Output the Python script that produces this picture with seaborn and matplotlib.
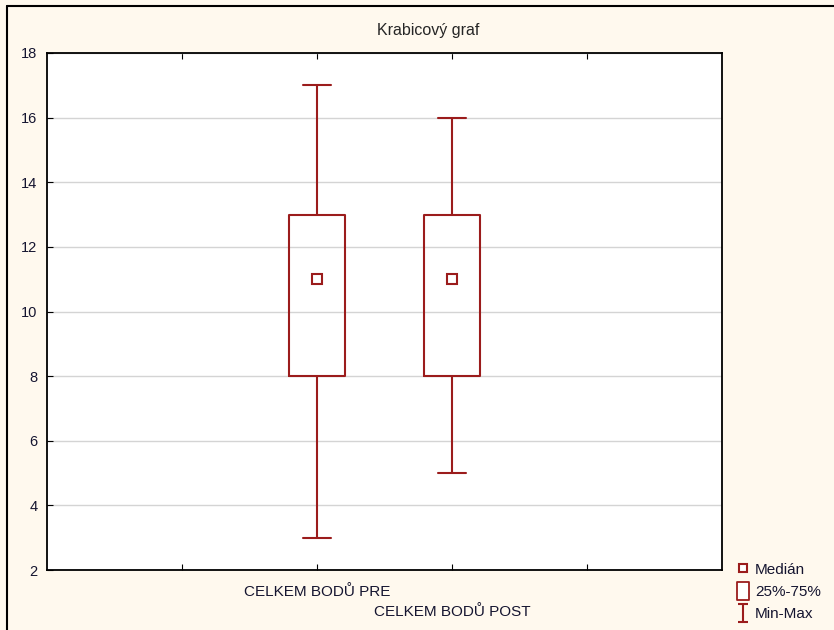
import matplotlib
matplotlib.use('Agg')
import matplotlib.pyplot as plt
import seaborn as sns
import pandas as pd
import numpy as np
from matplotlib.lines import Line2D
from matplotlib.path import Path

# Values (min, Q1, median, Q3, max)
categories = ['CELKEM BODŮ PRE', 'CELKEM BODŮ POST']
pre_values = [3, 8, 11, 13, 17]
post_values = [5, 8, 11, 13, 16]
y_ticks = [2, 4, 6, 8, 10, 12, 14, 16, 18]
legend_labels = ['Medián', '25%-75%', 'Min-Max']
title = 'Krabicový graf'

df = pd.DataFrame({
    'group': [categories[0]] * len(pre_values) + [categories[1]] * len(post_values),
    'value': pre_values + post_values,
})

red = '#9b1c1c'
bg = '#fff9ee'
txt = '#151530'

sns.set_style('white')
plt.rcParams['font.family'] = ['Liberation Sans', 'DejaVu Sans']

fig = plt.figure(figsize=(8.34, 6.30), dpi=100, facecolor=bg)
ax = fig.add_axes([47 / 834, 60 / 630, 675 / 834, 517 / 630])
ax.set_facecolor('white')

# empty padding categories so the boxes sit on the 2nd and 3rd tick
order = ['_l', categories[0], categories[1], '_r']
sns.boxplot(data=df, x='group', y='value', order=order, whis=(0, 100),
            width=0.41, fill=False, color=red, linewidth=1.5,
            medianprops={'linewidth': 0}, ax=ax)
sns.pointplot(data=df, x='group', y='value', order=order, estimator='median',
              errorbar=None, linestyle='none', marker='s', markersize=6.5,
              markerfacecolor='white', markeredgecolor=red, markeredgewidth=1.5,
              color=red, ax=ax)

ax.set_xlim(-1, 4)
ax.set_ylim(2, 18)
ax.set_yticks(y_ticks)
ax.set_xticks([0, 1, 2, 3])
ax.set_xticklabels(['', categories[0], categories[1], ''])
ax.set_xlabel('')
ax.set_ylabel('')
ax.yaxis.grid(True, color='#d4d4d4', linewidth=1)
ax.set_axisbelow(True)
for s in ax.spines.values():
    s.set_visible(True)
    s.set_color('black')
    s.set_linewidth(1.3)
ax.tick_params(axis='x', direction='in', length=4, top=True, bottom=True,
               labelsize=11, colors='black', labelcolor=txt, pad=11)
ax.tick_params(axis='y', direction='in', length=4, left=True,
               labelsize=10.5, colors='black', labelcolor=txt, pad=7)
# staggered second label
ax.xaxis.get_major_ticks()[2].set_pad(25)

fig.text(428 / 834, 1 - 30 / 630, title, ha='center', va='center', fontsize=11.5)

# figure border lines (top and left)
fig.add_artist(Line2D([7 / 834, 1], [1 - 6 / 630, 1 - 6 / 630], color='black', lw=1.5,
                      transform=fig.transFigure))
fig.add_artist(Line2D([7 / 834, 7 / 834], [0, 1 - 6 / 630], color='black', lw=1.5,
                      transform=fig.transFigure))

ibeam = Path([(-0.55, 1), (0.55, 1), (0, 1), (0, -1), (-0.55, -1), (0.55, -1)],
             [Path.MOVETO, Path.LINETO, Path.MOVETO, Path.LINETO, Path.MOVETO, Path.LINETO])
rect = Path([(-0.6, -1), (0.6, -1), (0.6, 1), (-0.6, 1), (-0.6, -1)],
            [Path.MOVETO, Path.LINETO, Path.LINETO, Path.LINETO, Path.CLOSEPOLY])
handles = [
    Line2D([], [], linestyle='none', marker='s', markersize=6, markerfacecolor='white',
           markeredgecolor=red, markeredgewidth=1.5),
    Line2D([], [], linestyle='none', marker=rect, markersize=13.5, markerfacecolor='white',
           markeredgecolor=red, markeredgewidth=1.3),
    Line2D([], [], linestyle='none', marker=ibeam, markersize=13.5, markerfacecolor='none',
           markeredgecolor=red, markeredgewidth=1.5),
]
fig.legend(handles, legend_labels, loc='lower left', bbox_to_anchor=(729 / 834, 1 / 630),
           frameon=False, fontsize=11, handlelength=0.8, handletextpad=0.4,
           labelspacing=0.55, borderpad=0, labelcolor=txt)

fig.savefig('out.png', dpi=100, facecolor=bg)
